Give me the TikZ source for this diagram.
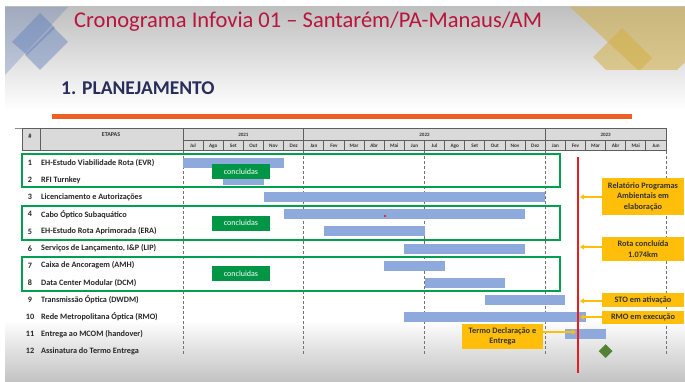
\documentclass[tikz,border=0pt]{standalone}
\usepackage{fontspec}
\setmainfont{Carlito}
\usetikzlibrary{arrows.meta,shapes.geometric}
\definecolor{barblue}{RGB}{142,169,219}
\definecolor{boxgreen}{RGB}{0,160,80}
\definecolor{lblgreen}{RGB}{0,150,70}
\definecolor{callout}{RGB}{255,190,10}
\definecolor{redline}{RGB}{232,30,30}
\definecolor{titlered}{RGB}{185,20,60}
\definecolor{navy}{RGB}{40,45,90}
\definecolor{orangeline}{RGB}{238,95,35}
\definecolor{hdrgray}{RGB}{218,218,218}
\definecolor{hdrline}{RGB}{95,95,95}
\definecolor{msgreen}{RGB}{84,130,53}
\definecolor{deco}{RGB}{95,125,185}
\definecolor{gold}{RGB}{210,175,70}
\tikzset{
  hdr/.style={fill=hdrgray,draw=hdrline,line width=1pt},
  etapa/.style={anchor=west,inner sep=0pt,font=\fontsize{8.2}{9}\selectfont\bfseries,text=black!85},
  numtxt/.style={inner sep=0pt,font=\fontsize{8.2}{9}\selectfont\bfseries,text=black!85},
  bar/.style={fill=barblue},
  grpbox/.style={draw=boxgreen,line width=2pt},
  donelbl/.style={fill=lblgreen,text=white,minimum width=58pt,minimum height=15pt,inner sep=0pt,font=\fontsize{8}{9}\selectfont},
  calloutbox/.style={fill=callout,text=black!80,align=center,inner sep=0pt,font=\fontsize{8.3}{10.5}\selectfont\bfseries},
  calarrow/.style={draw=callout,line width=1.5pt,-{Triangle[length=4pt,width=5pt]}},
  grid/.style={draw=black!55,line width=0.8pt,dash pattern=on 3pt off 2pt},
  monthtxt/.style={inner sep=0pt,font=\fontsize{5.2}{6}\selectfont\bfseries,text=black!80},
  yeartxt/.style={inner sep=0pt,font=\fontsize{5}{6}\selectfont\bfseries,text=black!80}
}
\begin{document}
\begin{tikzpicture}[x=1pt,y=-1pt]
\useasboundingbox (0,0) rectangle (685,382);
% background
\fill[white] (0,0) rectangle (685,382);
\shade[top color=black!25,bottom color=white] (5,7) rectangle (685,110);
\shade[top color=white,bottom color=black!24] (5,320) rectangle (685,382);
% decorations top-left
\fill[deco,opacity=0.3] (5,7) -- (68,7) -- (5,75) -- cycle;
\fill[deco,opacity=0.45] (40,13) -- (55,28) -- (27,55) -- (12,42) -- cycle;
\fill[deco,opacity=0.45] (53,27) -- (68,42) -- (40,70) -- (25,55) -- cycle;
% decorations top-right
\fill[gold,opacity=0.55] (570,7) -- (685,7) -- (685,62) -- (677,70) -- (638,70) -- cycle;
\begin{scope}
\clip (560,0) rectangle (685,70);
\fill[gold,opacity=0.55] (593,57) -- (622,28) -- (652,58) -- (623,87) -- cycle;
\end{scope}
% titles
\node[anchor=west,inner sep=0pt,text=titlered,font=\fontsize{22.5}{26}\selectfont] (title) at (74,22) {Cronograma Infovia 01 – Santarém/PA-Manaus/AM};
\node[anchor=west,inner sep=0pt,text=navy,font=\fontsize{19.5}{22}\selectfont\bfseries] (sub) at (61,88) {1. PLANEJAMENTO};
\draw[orangeline,line width=5pt] (52,117) -- (632,117);
\draw[black!45,line width=1pt] (15,129) -- (667,129);
% header
\draw[hdr] (22,129) rectangle (40,151);
\draw[hdr] (40,129) rectangle (183,151);
\node[yeartxt,font=\fontsize{6.5}{7}\selectfont\bfseries] (hnum) at (30,136) {\#};
\node[yeartxt,font=\fontsize{6}{7}\selectfont\bfseries] (hetapas) at (111,135) {ETAPAS};
\draw[hdr] (183,129) rectangle (303.75,141);
\draw[hdr] (303.75,129) rectangle (545.25,141);
\draw[hdr] (545.25,129) rectangle (666,141);
\node[yeartxt] (y2021) at (243.4,135) {2021};
\node[yeartxt] (y2022) at (424.5,135) {2022};
\node[yeartxt] (y2023) at (605.6,135) {2023};
\foreach \m [count=\k from 0] in {Jul,Ago,Set,Out,Nov,Dez,Jan,Fev,Mar,Abr,Mai,Jun,Jul,Ago,Set,Out,Nov,Dez,Jan,Fev,Mar,Abr,Mai,Jun}{
  \draw[hdr] ({183+\k*20.125},141) rectangle ({183+(\k+1)*20.125},151);
  \node[monthtxt] (m\k) at ({183+(\k+0.5)*20.125},146) {\m};
}
% grid lines
\foreach \k in {0,6,12,18,24}{
  \draw[grid] ({183+\k*20.125},151) -- ({183+\k*20.125},355);
}
% rows
\foreach \i/\t in {1/{EH-Estudo Viabilidade Rota (EVR)},2/{RFI Turnkey},3/{Licenciamento e Autorizações},4/{Cabo Óptico Subaquático},5/{EH-Estudo Rota Aprimorada (ERA)},6/{Serviços de Lançamento, I\&P (LIP)},7/{Caixa de Ancoragem (AMH)},8/{Data Center Modular (DCM)},9/{Transmissão Óptica (DWDM)},10/{Rede Metropolitana Óptica (RMO)},11/{Entrega ao MCOM (handover)},12/{Assinatura do Termo Entrega}}{
  \pgfmathsetmacro\yy{163+(\i-1)*17.1}
  \node[numtxt] (n\i) at (30,\yy) {\i};
  \node[etapa] (e\i) at (41,\yy) {\t};
}
% bars
\foreach \i/\s/\e in {1/0/5,2/2/4,3/4/18,4/5/17,5/7/12,6/11/17,7/10/13,8/12/16,9/15/19,10/11/20,11/19/21}{
  \pgfmathsetmacro\yy{163+(\i-1)*17.1}
  \fill[bar] ({183+\s*20.125},{\yy-5}) rectangle ({183+\e*20.125},{\yy+5});
}
\fill[red] (385,216) circle (1.2pt);
% milestone
\node[diamond,fill=msgreen,minimum width=14pt,minimum height=14pt,inner sep=0pt] (ms) at (605.6,351.1) {};
% group boxes
\draw[grpbox] (22,154) rectangle (560,187);
\draw[grpbox] (22,206) rectangle (560,240);
\draw[grpbox] (22,257) rectangle (560,291);
\node[donelbl] (c1) at (241,171.5) {concluidas};
\node[donelbl] (c2) at (241,223) {concluidas};
\node[donelbl] (c3) at (241,273.5) {concluidas};
% red line
\draw[redline,line width=2.5pt] (578,157) coordinate (rtop) -- (578,373) coordinate (rbot);
\coordinate (p1) at (580,197);
\coordinate (p2) at (580,247);
\coordinate (p3) at (580,301);
\coordinate (p4) at (580,317);
\coordinate (p5) at (576,332);
% callouts
\node[calloutbox,minimum width=82pt,minimum height=37pt] (k1) at (643,196.5) {Relatório Programas\\Ambientais em\\elaboração};
\node[calloutbox,minimum width=82pt,minimum height=24pt] (k2) at (643,249) {Rota concluída\\1.074km};
\node[calloutbox,minimum width=82pt,minimum height=14pt] (k3) at (643,300) {STO em ativação};
\node[calloutbox,minimum width=82pt,minimum height=13pt] (k4) at (643,317.5) {RMO em execução};
\node[calloutbox,minimum width=81pt,minimum height=25pt] (k5) at (502.5,336.5) {Termo Declaração e\\Entrega};
\draw[calarrow] (k1.west |- p1) -- (p1);
\draw[calarrow] (k2.west |- p2) -- (p2);
\draw[calarrow] (k3.west |- p3) -- (p3);
\draw[calarrow] (k4.west |- p4) -- (p4);
\draw[calarrow] (k5.east |- p5) -- (p5);
\end{tikzpicture}
\end{document}
